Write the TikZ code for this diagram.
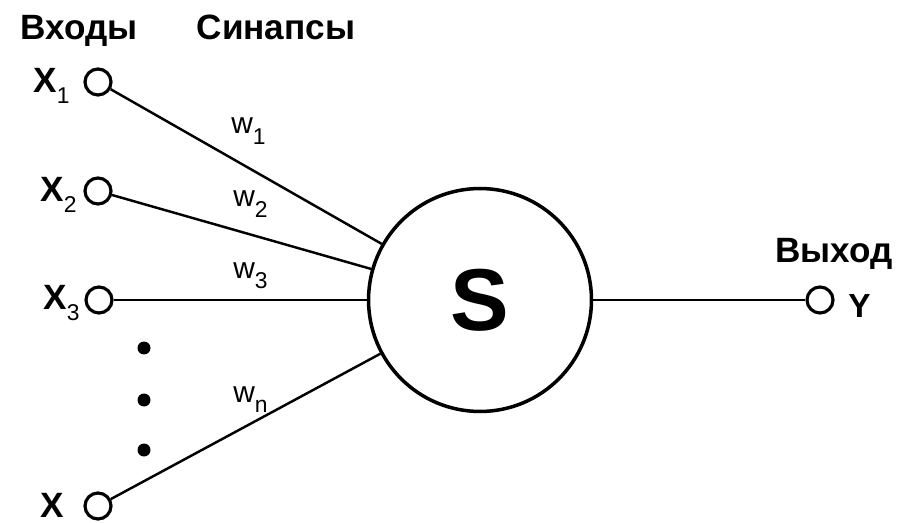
\documentclass[tikz,border=0pt]{standalone}
\usepackage{fontspec}
\setmainfont{Liberation Sans}
\newcommand{\lowidx}[1]{\raisebox{-6pt}{\fontsize{13}{14}\selectfont\mdseries #1}}
\begin{document}
\begin{tikzpicture}[x=0.02cm,y=-0.02cm,
    pin/.style={circle,draw,line width=1.8pt,minimum size=0.52cm,inner sep=0pt},
    dot/.style={circle,fill,minimum size=0.26cm,inner sep=0pt},
    wire/.style={line width=1.4pt},
    head/.style={font=\fontsize{20}{24}\selectfont\bfseries,anchor=base,inner sep=0pt},
    xlab/.style={font=\fontsize{20}{24}\selectfont\bfseries,anchor=base west,inner sep=0pt},
    wlab/.style={font=\fontsize{17}{20}\selectfont,anchor=base west,inner sep=0pt}]
    \useasboundingbox (0,0) rectangle (912,523);
    % headings
    \node[head] (inhead) at (79,40) {Входы};
    \node[head] (synhead) at (276,40) {Синапсы};
    \node[head] (outhead) at (834,263) {Выход};
    % adder
    \node[circle,draw,line width=2pt,minimum size=4.46cm,inner sep=0pt,
      font=\fontsize{50}{60}\selectfont\bfseries] (sum) at (480,300) {S};
    % inputs and output
    \node[pin] (x1) at (98,82) {};
    \node[pin] (x2) at (98,191) {};
    \node[pin] (x3) at (99,300) {};
    \node[pin] (xn) at (98,506) {};
    \node[pin] (y) at (820,300) {};
    \node[xlab] (x1lab) at (33,93) {X\lowidx{1}};
    \node[xlab] (x2lab) at (40,202) {X\lowidx{2}};
    \node[xlab] (x3lab) at (43,310) {X\lowidx{3}};
    \node[xlab] (xnlab) at (40,517) {X};
    \node[font=\fontsize{19}{22}\selectfont\bfseries,anchor=base west,inner sep=0pt]
      (ylab) at (848,317) {Y};
    \foreach \i/\y in {1/348,2/400,3/450}
      \node[dot] (dot\i) at (144,\y) {};
    % synapses
    \draw[wire] (x1) -- (sum);
    \draw[wire] (x2) -- (sum);
    \draw[wire] (x3) -- (sum);
    \draw[wire] (xn) -- (sum);
    \draw[wire] (sum) -- (y);
    \node[wlab] (w1) at (231,134) {w\lowidx{1}};
    \node[wlab] (w2) at (233,207) {w\lowidx{2}};
    \node[wlab] (w3) at (233,278) {w\lowidx{3}};
    \node[wlab] (wn) at (233,402) {w\lowidx{n}};
\end{tikzpicture}
\end{document}
